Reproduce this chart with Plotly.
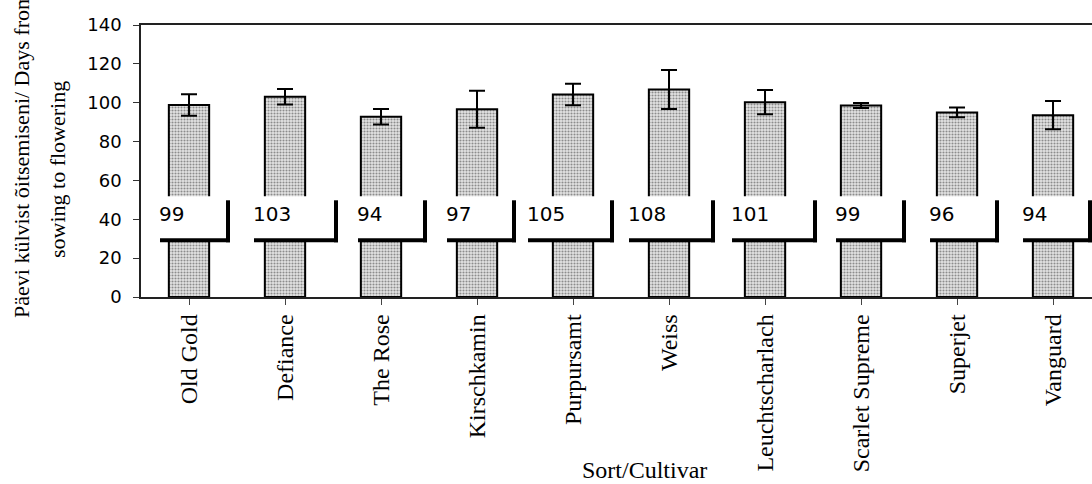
import plotly.graph_objects as go

# ---- data ----
cultivars = ["Old Gold", "Defiance", "The Rose", "Kirschkamin", "Purpursamt",
             "Weiss", "Leuchtscharlach", "Scarlet Supreme", "Superjet", "Vanguard"]
days = [98.8, 103.1, 92.8, 96.6, 104.2, 106.8, 100.3, 98.6, 95.0, 93.6]
days_err = [5.5, 4.0, 4.0, 9.5, 5.5, 10.0, 6.3, 1.3, 2.5, 7.3]
day_labels = ["99", "103", "94", "97", "105", "108", "101", "99", "96", "94"]
y_ticks = [0, 20, 40, 60, 80, 100, 120, 140]

# label-box nudges (pixels, relative to each bar centre) -- layout only
box_left = [-29, -31, -23, -30, -45, -40, -33, -25, -27, -30]
box_right = [39, 51, 44, 37, 39, 44, 50, 43, 40, 37]
LABEL_LEVEL = 40  # y value where label boxes are anchored

fig = go.Figure()
fig.add_trace(go.Bar(
    x=list(range(len(cultivars))), y=days, width=0.42,
    marker=dict(color="#d4d4d4",
                line=dict(color="black", width=2),
                pattern=dict(shape=".", fgcolor="#333333", bgcolor="#e4e4e4",
                             size=3, solidity=0.4)),
    error_y=dict(type="data", array=days_err, visible=True,
                 color="black", thickness=2, width=8),
    showlegend=False, hoverinfo="skip",
))

shapes = []
annotations = []
for i, lab in enumerate(day_labels):
    L, R = box_left[i], box_right[i]
    common = dict(xref="x", yref="y", xsizemode="pixel", ysizemode="pixel",
                  xanchor=i, yanchor=LABEL_LEVEL, layer="above")
    # white box (bar break)
    shapes.append(dict(type="rect", x0=L, x1=R, y0=-21, y1=23,
                       fillcolor="white", line=dict(width=0), **common))
    # shadow bottom
    shapes.append(dict(type="rect", x0=L, x1=R + 2, y0=-23, y1=-19,
                       fillcolor="black", line=dict(width=0), **common))
    # shadow right
    shapes.append(dict(type="rect", x0=R - 2, x1=R + 2, y0=-23, y1=19,
                       fillcolor="black", line=dict(width=0), **common))
    annotations.append(dict(x=i, y=LABEL_LEVEL, xref="x", yref="y",
                            text=lab, showarrow=False, xanchor="left",
                            yanchor="middle", xshift=L - 3, yshift=5,
                            font=dict(family="DejaVu Sans", size=20, color="black")))

serif = "Liberation Serif"
annotations += [
    dict(xref="paper", yref="paper", x=0, y=0.5, xanchor="center", yanchor="middle",
         xshift=-120, yshift=5, textangle=-90, showarrow=False,
         text="Päevi külvist õitsemiseni/ Days from",
         font=dict(family=serif, size=22, color="black")),
    dict(xref="paper", yref="paper", x=0, y=0.5, xanchor="center", yanchor="middle",
         xshift=-84, yshift=-9, textangle=-90, showarrow=False,
         text="sowing to flowering",
         font=dict(family=serif, size=22, color="black")),
    dict(xref="paper", yref="paper", x=0.5, y=0, xanchor="center", yanchor="middle",
         xshift=28, yshift=-173, showarrow=False, text="Sort/Cultivar",
         font=dict(family=serif, size=24, color="black")),
]

fig.update_layout(
    width=1092, height=484,
    margin=dict(l=141, r=0, t=25, b=187, pad=0, autoexpand=False),
    paper_bgcolor="white", plot_bgcolor="white",
    shapes=shapes, annotations=annotations,
)
fig.update_xaxes(
    range=[-0.5, 9.406], automargin=False,
    tickmode="array", tickvals=list(range(len(cultivars))), ticktext=cultivars,
    tickangle=-90, tickfont=dict(family=serif, size=24, color="black"),
    showline=True, linecolor="#222", linewidth=1.5, mirror=True,
    ticks="outside", ticklen=6, tickcolor="#444", tickwidth=1,
    showgrid=False, zeroline=False, fixedrange=True,
)
fig.update_yaxes(
    range=[0, 140], automargin=False, tickmode="array", tickvals=y_ticks,
    tickfont=dict(family="DejaVu Sans", size=18, color="black"),
    showline=True, linecolor="#222", linewidth=1.5,
    ticks="outside", ticklen=6, tickcolor="#333", ticklabelstandoff=8,
    showgrid=False, zeroline=False, fixedrange=True,
)

fig.write_html("out.html", config={"displayModeBar": False},
               post_script="document.body.style.margin='0px';"
                           "document.body.style.overflow='hidden';")
